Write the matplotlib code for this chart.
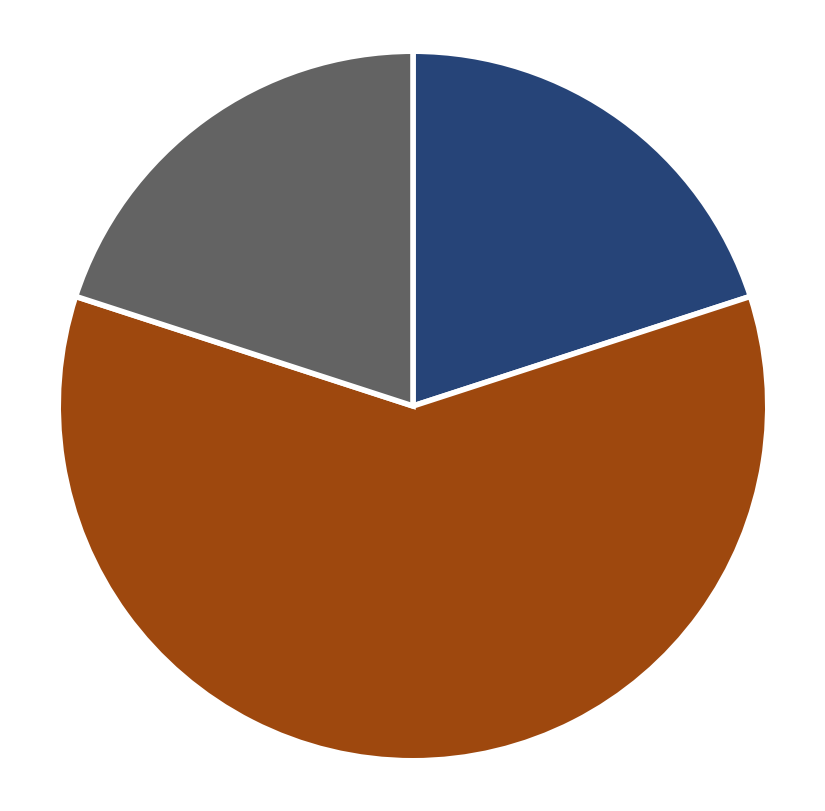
import matplotlib
matplotlib.use('Agg')
import matplotlib.pyplot as plt

labels = ['Blue', 'Orange', 'Grey']
values = [20, 60, 20]
colors = ['#264478', '#9E480E', '#636363']

fig = plt.figure(figsize=(8.25, 8.12), dpi=100)
# square axes box in pixels: 706 x 706, centre at (413, 407)
ax = fig.add_axes([60 / 825, (812 - 760) / 812, 706 / 825, 706 / 812])
ax.pie(values, colors=colors, startangle=90, counterclock=False, radius=1.0,
       wedgeprops=dict(edgecolor='white', linewidth=4))
ax.set_xlim(-0.995, 0.995)
ax.set_ylim(-0.995, 0.995)
ax.set_aspect('equal')
ax.axis('off')

fig.savefig('out.png', dpi=100, facecolor='white')
plt.close()
